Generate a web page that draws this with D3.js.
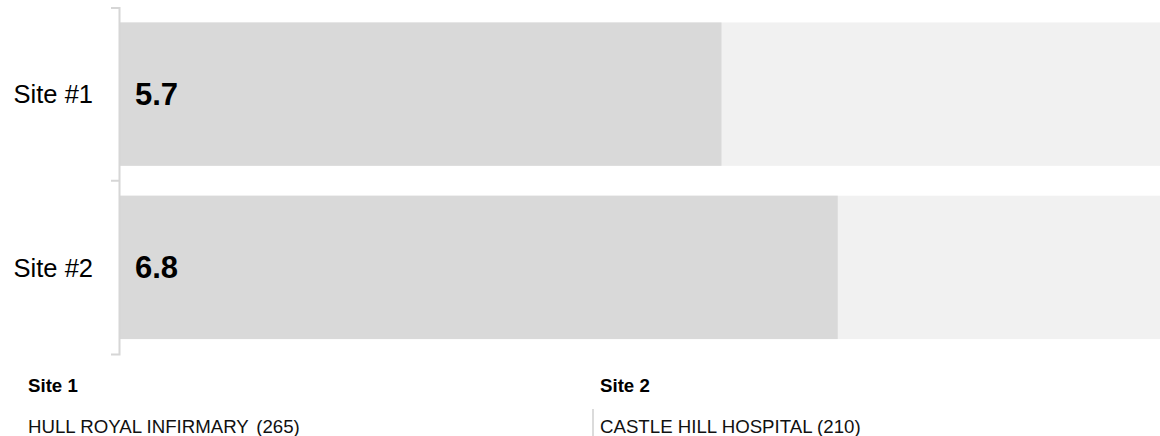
<!DOCTYPE html>
<html>
<head>
<meta charset="utf-8">
<script src="https://cdn.jsdelivr.net/npm/d3@7"></script>
<style>
  body { margin: 0; background: #fff; }
  svg { display: block; font-family: "Liberation Sans", Arial, sans-serif; }
</style>
</head>
<body>
<svg width="1160" height="436"></svg>
<script>
// chart data
const siteLabels = ["Site #1", "Site #2"];
const siteValues = [5.7, 6.8];
const scaleMax = 10;

const footerTitles = ["Site 1", "Site 2"];
const footerNames = ["HULL ROYAL INFIRMARY", "CASTLE HILL HOSPITAL"];
const footerCounts = [265, 210];

let svg = d3.select("svg");

const axisX = 119;

const x = d3.scaleLinear().domain([0, scaleMax]).range([axisX, 1176]);

const y = d3
  .scaleBand()
  .domain(siteLabels)
  .range([7.5, 354])
  .paddingInner(0.1724)
  .paddingOuter(0.0862);

// background (full scale) bars
svg
  .selectAll("rect.bg")
  .data(siteLabels)
  .join("rect")
  .attr("class", "bg")
  .attr("x", x(0))
  .attr("y", (d) => y(d))
  .attr("width", x(scaleMax) - x(0))
  .attr("height", y.bandwidth())
  .attr("fill", "#f1f1f1");

// value bars
svg
  .selectAll("rect.val")
  .data(siteValues)
  .join("rect")
  .attr("class", "val")
  .attr("x", x(0))
  .attr("y", (d, i) => y(siteLabels[i]))
  .attr("width", (d) => x(d) - x(0))
  .attr("height", y.bandwidth())
  .attr("fill", "#d9d9d9");

// value labels
svg
  .selectAll("text.val")
  .data(siteValues)
  .join("text")
  .attr("class", "val")
  .attr("x", x(0) + 16)
  .attr("y", (d, i) => y(siteLabels[i]) + y.bandwidth() / 2 + 11)
  .attr("font-size", 31)
  .attr("font-weight", "bold")
  .attr("fill", "#000")
  .text((d) => d.toFixed(1));

// left axis
let yAxis = svg
  .append("g")
  .attr("transform", `translate(${axisX},0)`)
  .call(d3.axisLeft(y).tickSize(0).tickSizeOuter(8).tickPadding(26));

yAxis.attr("font-family", null);
yAxis.select(".domain").attr("stroke", "#d6d6d6").attr("stroke-width", 2);
yAxis
  .selectAll(".tick text")
  .attr("font-size", 25.5)
  .attr("fill", "#000")
  .attr("dy", "0.36em");

// tick between bands
siteLabels.slice(1).forEach((d) => {
  const yy = y(d) - (y.step() - y.bandwidth()) / 2;
  svg
    .append("line")
    .attr("x1", axisX - 8)
    .attr("x2", axisX)
    .attr("y1", yy)
    .attr("y2", yy)
    .attr("stroke", "#d6d6d6")
    .attr("stroke-width", 2);
});

// footer
const footerX = [28, 600];

footerTitles.forEach((t, i) => {
  svg
    .append("text")
    .attr("x", footerX[i])
    .attr("y", 391.5)
    .attr("font-size", 18.67)
    .attr("font-weight", "bold")
    .attr("fill", "#000")
    .text(t);

  let line = svg
    .append("text")
    .attr("x", footerX[i])
    .attr("y", 432.5)
    .attr("font-size", 18.67)
    .attr("fill", "#111");
  line.append("tspan").text(footerNames[i]);
  line.append("tspan").attr("dx", i === 0 ? 2.5 : 0).text(" (" + footerCounts[i] + ")");
});

// separator before second site
svg
  .append("line")
  .attr("x1", 593)
  .attr("x2", 593)
  .attr("y1", 409)
  .attr("y2", 436)
  .attr("stroke", "#cfcfcf")
  .attr("stroke-width", 1.5);
</script>
</body>
</html>
